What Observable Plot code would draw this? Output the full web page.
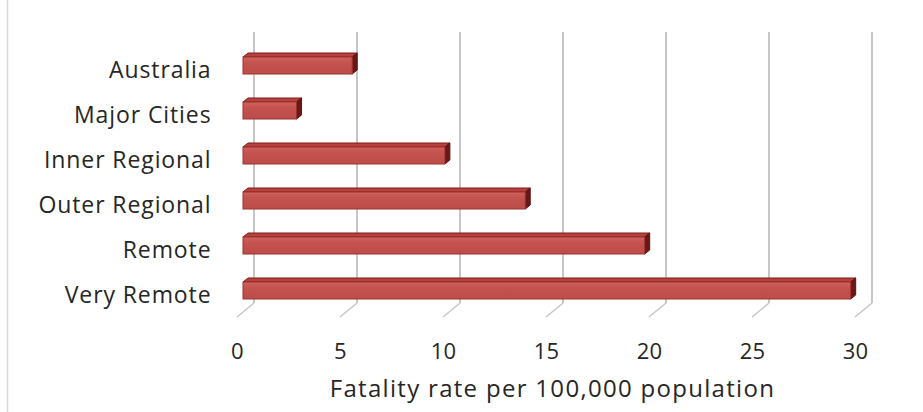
<!DOCTYPE html>
<html>
<head>
<meta charset="utf-8">
<script src="https://cdn.jsdelivr.net/npm/d3@7"></script>
<script src="https://cdn.jsdelivr.net/npm/@observablehq/plot@0.6"></script>
<style>
  html, body { margin: 0; padding: 0; background: #fff; }
  #chart { width: 923px; height: 412px; }
  g[aria-label="y-axis tick label"] text { letter-spacing: 0.9px; }
  g[aria-label="x-axis tick label"] text { letter-spacing: 0.3px; }
  g[aria-label="x-axis label"] text { letter-spacing: 1.3px; }
</style>
</head>
<body>
<div id="chart"></div>
<script>
const categories = ["Australia", "Major Cities", "Inner Regional", "Outer Regional", "Remote", "Very Remote"];
const rates = [5.3, 2.6, 9.8, 13.7, 19.5, 29.5];
const xTicks = [0, 5, 10, 15, 20, 25, 30];
const xLabel = "Fatality rate per 100,000 population";

const data = categories.map((c, i) => ({category: c, rate: rates[i]}));

const DX = 5, DY = 4;           // bar depth (pixels)
const WX = 11, WY = 10;         // back wall offset
const FX = -6, FY = 4;          // floor front offset

function floorAndWall(index, scales, values, dim) {
  const g = d3.create("svg:g");
  const x = scales.x;
  const bottom = dim.height - dim.marginBottom;
  const top = dim.marginTop;
  for (const t of xTicks) {
    const px = x(t);
    g.append("line")
      .attr("x1", px + WX).attr("x2", px + WX)
      .attr("y1", top - WY).attr("y2", bottom - WY)
      .attr("stroke", "#c6c6c6").attr("stroke-width", 2);
    g.append("line")
      .attr("x1", px + WX).attr("y1", bottom - WY)
      .attr("x2", px + FX).attr("y2", bottom + FY)
      .attr("stroke", "#c6c6c6").attr("stroke-width", 1.5);
  }
  return g.node();
}

function bars3d(index, scales, values, dim) {
  const g = d3.create("svg:g");
  const defs = g.append("defs");
  const grad = defs.append("linearGradient").attr("id", "frontGrad")
    .attr("x1", 0).attr("y1", 0).attr("x2", 0).attr("y2", 1);
  grad.append("stop").attr("offset", "0%").attr("stop-color", "#d0625e");
  grad.append("stop").attr("offset", "35%").attr("stop-color", "#c4524f");
  grad.append("stop").attr("offset", "100%").attr("stop-color", "#bd4d4a");
  const x = scales.x, y = scales.y;
  const bw = y.bandwidth ? y.bandwidth() : 17;
  for (const d of data) {
    const x0 = x(0), x1 = x(d.rate), y0 = y(d.category), y1 = y0 + bw;
    // top face
    g.append("path")
      .attr("d", `M${x0},${y0}L${x0 + DX},${y0 - DY}L${x1 + DX},${y0 - DY}L${x1},${y0}Z`)
      .attr("fill", "#b9403d").attr("stroke", "#7c1d1b").attr("stroke-width", 1);
    // side face
    g.append("path")
      .attr("d", `M${x1},${y0}L${x1 + DX},${y0 - DY}L${x1 + DX},${y1 - DY}L${x1},${y1}Z`)
      .attr("fill", "#6a1816").attr("stroke", "#5a1412").attr("stroke-width", 1);
    // front face
    g.append("rect")
      .attr("x", x0).attr("y", y0).attr("width", x1 - x0).attr("height", bw)
      .attr("fill", "url(#frontGrad)").attr("stroke", "#9a3431").attr("stroke-width", 1);
  }
  return g.node();
}

const plot = Plot.plot({
  width: 923,
  height: 412,
  marginLeft: 243,
  marginRight: 62,
  marginTop: 42,
  marginBottom: 99,
  style: {fontFamily: "'Open Sans', sans-serif", background: "#fff", color: "#262626"},
  x: {domain: [0, 30], range: [243, 861]},
  y: {domain: categories, range: [41.9, 313.1], paddingInner: 0.624, paddingOuter: 0.312},
  marks: [
    floorAndWall,
    Plot.barX(data, {x: "rate", y: "category", fill: "none"}),
    bars3d,
    Plot.axisY({tickSize: 0, tickPadding: 32, fontSize: 23, dy: 5, label: null}),
    Plot.axisX({ticks: xTicks, tickSize: 0, tickPadding: 30, fontSize: 22, dx: -6, label: null}),
    Plot.axisX({ticks: [], tickSize: 0, fontSize: 24, dx: -4,
      label: xLabel, labelAnchor: "center", labelArrow: "none", labelOffset: 83})
  ]
});
document.getElementById("chart").appendChild(plot);
// left chart-area border
d3.select(plot).append("line").attr("x1", 7.5).attr("x2", 7.5).attr("y1", 0).attr("y2", 412)
  .attr("stroke", "#d9d9d9").attr("stroke-width", 1.5);
</script>
</body>
</html>
